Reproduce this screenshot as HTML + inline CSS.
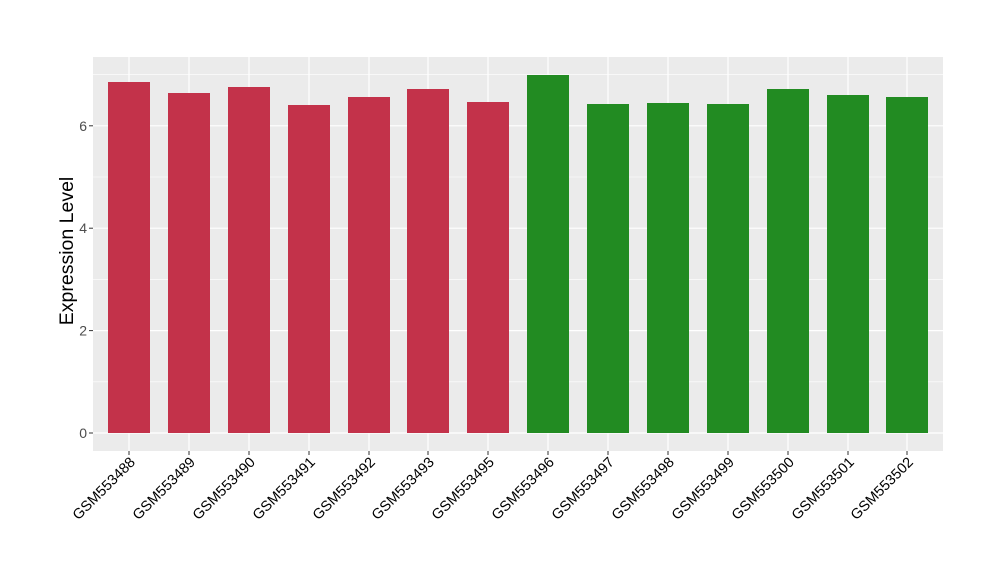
<!DOCTYPE html>
<html><head><style>body{margin:0;background:#fff}</style></head><body>
<svg width="1000" height="580" xmlns="http://www.w3.org/2000/svg" font-family="Liberation Sans, sans-serif">
<rect x="93" y="57" width="850" height="394" fill="#ebebeb"/>
<g stroke="#fff" stroke-width="0.6">
<line x1="93" x2="943" y1="381.8" y2="381.8"/><line x1="93" x2="943" y1="279.4" y2="279.4"/><line x1="93" x2="943" y1="177" y2="177"/><line x1="93" x2="943" y1="74.6" y2="74.6"/>
</g>
<g stroke="#fff" stroke-width="1.2">
<line x1="93" x2="943" y1="433" y2="433"/><line x1="93" x2="943" y1="330.6" y2="330.6"/><line x1="93" x2="943" y1="228.2" y2="228.2"/><line x1="93" x2="943" y1="125.8" y2="125.8"/>
<line x1="129" x2="129" y1="57" y2="451"/><line x1="189" x2="189" y1="57" y2="451"/><line x1="249" x2="249" y1="57" y2="451"/><line x1="309" x2="309" y1="57" y2="451"/><line x1="369" x2="369" y1="57" y2="451"/><line x1="428" x2="428" y1="57" y2="451"/><line x1="488" x2="488" y1="57" y2="451"/><line x1="548" x2="548" y1="57" y2="451"/><line x1="608" x2="608" y1="57" y2="451"/><line x1="668" x2="668" y1="57" y2="451"/><line x1="728" x2="728" y1="57" y2="451"/><line x1="788" x2="788" y1="57" y2="451"/><line x1="848" x2="848" y1="57" y2="451"/><line x1="907" x2="907" y1="57" y2="451"/>
</g>
<g fill="#c3324a">
<rect x="108" y="82" width="42" height="351"/><rect x="168" y="93" width="42" height="340"/><rect x="228" y="87" width="42" height="346"/><rect x="288" y="105" width="42" height="328"/><rect x="348" y="97" width="42" height="336"/><rect x="407" y="89" width="42" height="344"/><rect x="467" y="102" width="42" height="331"/>
</g>
<g fill="#228b22">
<rect x="527" y="75" width="42" height="358"/><rect x="587" y="104" width="42" height="329"/><rect x="647" y="103" width="42" height="330"/><rect x="707" y="104" width="42" height="329"/><rect x="767" y="89" width="42" height="344"/><rect x="827" y="95" width="42" height="338"/><rect x="886" y="97" width="42" height="336"/>
</g>
<g stroke="#333" stroke-width="1">
<line x1="89" x2="93" y1="433" y2="433"/><line x1="89" x2="93" y1="330.6" y2="330.6"/><line x1="89" x2="93" y1="228.2" y2="228.2"/><line x1="89" x2="93" y1="125.8" y2="125.8"/>
</g>
<g font-size="14" fill="#4d4d4d" text-anchor="end">
<text x="87" y="438">0</text><text x="87" y="335.6">2</text><text x="87" y="233.2">4</text><text x="87" y="130.8">6</text>
</g>
<text transform="translate(73,251) rotate(-90)" text-anchor="middle" font-size="19.5" fill="#000">Expression Level</text>
<g stroke="#333" stroke-width="1">
<line x1="129" x2="129" y1="451" y2="455"/><line x1="189" x2="189" y1="451" y2="455"/><line x1="249" x2="249" y1="451" y2="455"/><line x1="309" x2="309" y1="451" y2="455"/><line x1="369" x2="369" y1="451" y2="455"/><line x1="428" x2="428" y1="451" y2="455"/><line x1="488" x2="488" y1="451" y2="455"/><line x1="548" x2="548" y1="451" y2="455"/><line x1="608" x2="608" y1="451" y2="455"/><line x1="668" x2="668" y1="451" y2="455"/><line x1="728" x2="728" y1="451" y2="455"/><line x1="788" x2="788" y1="451" y2="455"/><line x1="848" x2="848" y1="451" y2="455"/><line x1="907" x2="907" y1="451" y2="455"/>
</g>
<g font-size="14.5" fill="#000" text-anchor="end">
<text transform="translate(136,463) rotate(-45)">GSM553488</text>
<text transform="translate(196,463) rotate(-45)">GSM553489</text>
<text transform="translate(256,463) rotate(-45)">GSM553490</text>
<text transform="translate(316,463) rotate(-45)">GSM553491</text>
<text transform="translate(376,463) rotate(-45)">GSM553492</text>
<text transform="translate(435,463) rotate(-45)">GSM553493</text>
<text transform="translate(495,463) rotate(-45)">GSM553495</text>
<text transform="translate(555,463) rotate(-45)">GSM553496</text>
<text transform="translate(615,463) rotate(-45)">GSM553497</text>
<text transform="translate(675,463) rotate(-45)">GSM553498</text>
<text transform="translate(735,463) rotate(-45)">GSM553499</text>
<text transform="translate(795,463) rotate(-45)">GSM553500</text>
<text transform="translate(855,463) rotate(-45)">GSM553501</text>
<text transform="translate(914,463) rotate(-45)">GSM553502</text>
</g>
</svg>
</body></html>
